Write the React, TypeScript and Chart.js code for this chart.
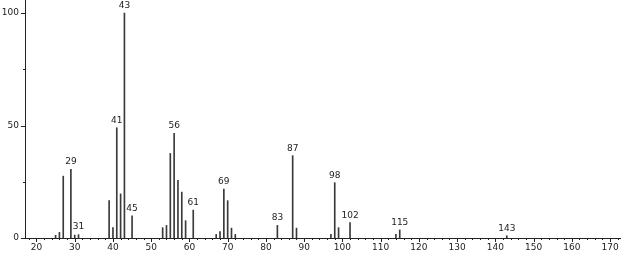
import { useEffect, useRef } from "react";
import { Chart, registerables } from "chart.js";

Chart.register(...registerables);

const mz = [25, 26, 27, 29, 30, 31, 39, 40, 41, 42, 43, 45, 53, 54, 55, 56, 57, 58, 59, 61, 67, 68, 69, 70, 71, 72, 83, 87, 88, 97, 98, 99, 102, 114, 115, 143];
const intensity = [1.2, 2.5, 27.5, 30.5, 1.3, 1.5, 16.6, 4.6, 49, 19.6, 100, 9.8, 4.6, 5.6, 37.6, 46.5, 25.6, 20.4, 7.7, 12.4, 1.6, 2.8, 21.8, 16.6, 4.4, 1.6, 5.6, 36.6, 4.4, 1.6, 24.6, 4.6, 6.8, 1.6, 3.6, 1.0];
const labeledPeaks = [29, 31, 41, 43, 45, 56, 61, 69, 83, 87, 98, 102, 115, 143];
const xMajorTicks = [20, 30, 40, 50, 60, 70, 80, 90, 100, 110, 120, 130, 140, 150, 160, 170];
const yMajorTicks = [0, 50, 100];
const yMinorTicks = [25, 75];

const FONT = "9px 'DejaVu Sans', sans-serif";
const INK = "#222";

const decorPlugin = {
  id: "decor",
  afterDraw(chart: any) {
    const ctx = chart.ctx;
    const xs = chart.scales.x;
    const ys = chart.scales.y;
    const area = chart.chartArea;
    ctx.save();
    ctx.strokeStyle = INK;
    ctx.lineWidth = 1;
    // x ticks
    const xmin = Math.ceil(xs.min / 2) * 2;
    for (let v = xmin; v <= xs.max; v += 2) {
      const px = Math.round(xs.getPixelForValue(v)) + 0.5;
      const len = v % 10 === 0 ? 4 : 2;
      ctx.beginPath();
      ctx.moveTo(px, area.bottom);
      ctx.lineTo(px, area.bottom + len);
      ctx.stroke();
    }
    ctx.fillStyle = INK;
    ctx.font = FONT;
    ctx.textAlign = "center";
    ctx.textBaseline = "top";
    xMajorTicks.forEach((v) => {
      ctx.fillText(String(v), xs.getPixelForValue(v), area.bottom + 5);
    });
    // y ticks
    yMajorTicks.concat(yMinorTicks).forEach((v) => {
      const py = Math.round(ys.getPixelForValue(v)) + 0.5;
      const len = yMajorTicks.includes(v) ? 4 : 2;
      ctx.beginPath();
      ctx.moveTo(area.left, py);
      ctx.lineTo(area.left - len, py);
      ctx.stroke();
    });
    ctx.textAlign = "right";
    ctx.textBaseline = "middle";
    yMajorTicks.forEach((v) => {
      ctx.fillText(String(v), area.left - 6, ys.getPixelForValue(v));
    });
    // peak labels
    ctx.textAlign = "center";
    ctx.textBaseline = "bottom";
    labeledPeaks.forEach((m) => {
      const i = mz.indexOf(m);
      if (i < 0) return;
      ctx.fillText(String(m), xs.getPixelForValue(m), ys.getPixelForValue(intensity[i]) - 3);
    });
    ctx.restore();
  },
};

export default function App() {
  const ref = useRef<HTMLCanvasElement>(null);
  useEffect(() => {
    if (!ref.current) return;
    const chart = new Chart(ref.current, {
      type: "bar",
      data: {
        datasets: [
          {
            data: mz.map((m, i) => ({ x: m, y: intensity[i] })),
            backgroundColor: "#3a3a3a",
            borderWidth: 0,
            barThickness: 1,
          },
        ],
      },
      options: {
        animation: false,
        responsive: false,
        maintainAspectRatio: false,
        layout: { padding: { left: 0, right: 3, top: 0, bottom: 0 } },
        plugins: { legend: { display: false }, tooltip: { enabled: false } },
        scales: {
          x: {
            type: "linear",
            min: 17,
            max: 172.6,
            offset: false,
            grid: { display: false, drawTicks: false },
            border: { display: true, color: INK, width: 1 },
            ticks: { display: false },
            afterFit: (s: any) => {
              s.height = 16;
            },
          },
          y: {
            min: 0,
            max: 105.8,
            grid: { display: false, drawTicks: false },
            border: { display: true, color: INK, width: 1 },
            ticks: { display: false },
            afterFit: (s: any) => {
              s.width = 25;
            },
          },
        },
      },
      plugins: [decorPlugin],
    });
    return () => chart.destroy();
  }, []);
  return (
    <div style={{ position: "fixed", left: 0, top: 0, width: 623, height: 254, background: "#fff" }}>
      <canvas ref={ref} width={623} height={254} style={{ display: "block" }} />
    </div>
  );
}
